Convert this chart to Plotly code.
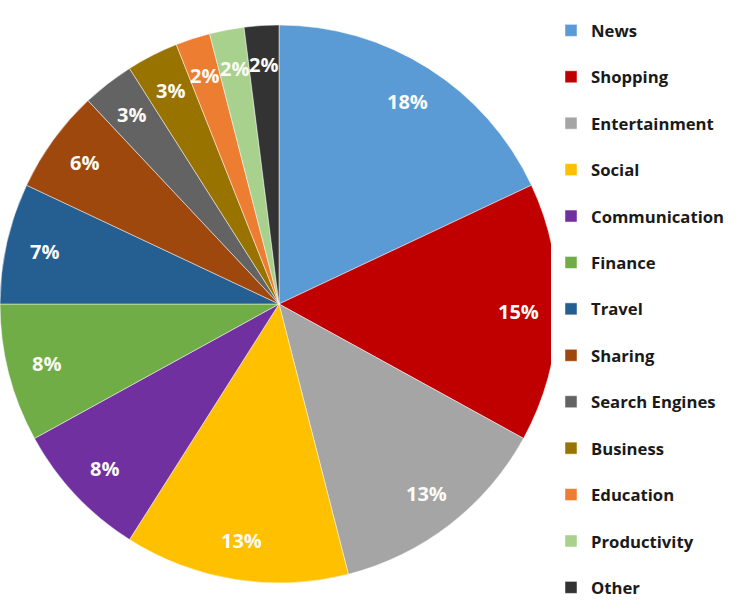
import math
import plotly.graph_objects as go

# Share of websites by category (percent)
categories = ["News", "Shopping", "Entertainment", "Social", "Communication",
              "Finance", "Travel", "Sharing", "Search Engines", "Business",
              "Education", "Productivity", "Other"]
shares = [18, 15, 13, 13, 8, 8, 7, 6, 3, 3, 2, 2, 2]
colors = ["#5B9BD5", "#C00000", "#A5A5A5", "#FFC000", "#7030A0",
          "#70AD47", "#255E91", "#9E480E", "#636363", "#997300",
          "#ED7D31", "#A9D18E", "#333333"]

W, H = 746, 609
D = 558                 # pie diameter in px
cx, cy = 279, 304       # pie centre in px (from top-left)
LABEL_R = 0.86          # label distance as a fraction of the radius

# legend entries get a blank second line for wider row spacing (not the last one)
legend_labels = [c + "<br> " for c in categories[:-1]] + [categories[-1]]

fig = go.Figure(go.Pie(
    labels=legend_labels,
    values=shares,
    sort=False,
    direction="clockwise",
    rotation=0,
    marker=dict(colors=colors, line=dict(color="rgba(255,255,255,0.6)", width=0.8)),
    textinfo="none",
    domain=dict(x=[(cx - D / 2) / W, (cx + D / 2) / W],
                y=[(H - cy - D / 2) / H, (H - cy + D / 2) / H]),
    hoverinfo="label+percent",
))

# percentage labels near the outer end of each slice
total = sum(shares)
cum = 0
for v in shares:
    theta = 2 * math.pi * (cum + v / 2) / total
    cum += v
    px = cx + LABEL_R * D / 2 * math.sin(theta)
    py = cy - LABEL_R * D / 2 * math.cos(theta)
    fig.add_annotation(
        x=px / W, y=(H - py) / H, xref="paper", yref="paper",
        text=f"{v}%", showarrow=False, xanchor="center", yanchor="middle",
        font=dict(family="Open Sans", size=20, color="#fbfbf6", weight="bold"),
    )

fig.update_layout(
    width=W, height=H,
    margin=dict(l=0, r=0, t=0, b=0),
    paper_bgcolor="white",
    legend=dict(x=551 / W, y=1 - 13 / H, xanchor="left", yanchor="top", valign="top",
                font=dict(family="Open Sans", size=16.7, color="#1a1a1a", weight="bold"),
                itemwidth=30, tracegroupgap=0, maxheight=800),
)

fig.write_html("out.html")
